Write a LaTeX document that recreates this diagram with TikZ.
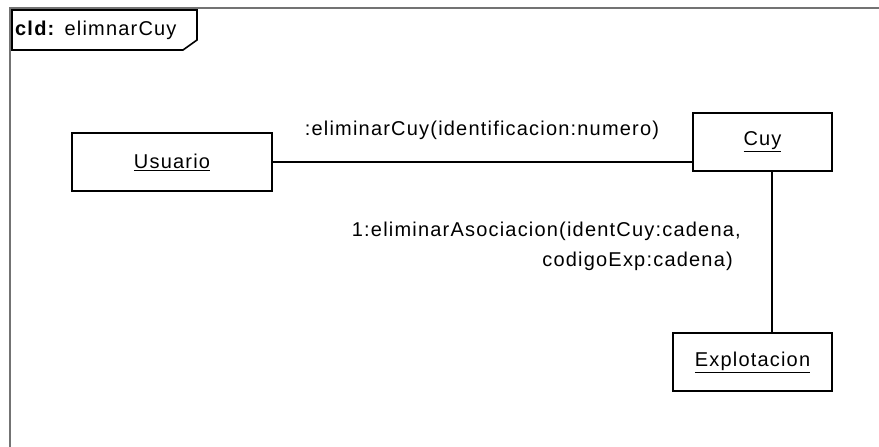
\documentclass[tikz,border=0pt]{standalone}
\usepackage{fontspec}
\setmainfont{Liberation Sans}[LetterSpace=6]
\begin{document}
\begin{tikzpicture}[x=1pt,y=-1pt,
  obj/.style={draw=black,line width=2pt,fill=white,inner sep=0pt,font=\fontsize{20}{23}\selectfont},
  conn/.style={draw=black,line width=2pt},
  msg/.style={inner sep=0pt,font=\fontsize{20}{23}\selectfont},
  framel/.style={draw=black!55,line width=2pt}]
\useasboundingbox (0,0) rectangle (879,447);
\fill[white] (0,0) rectangle (879,447);
% frame
\draw[framel] (10,447) -- (10,8) -- (879,8);
% tab
\draw[line width=1.6pt,fill=white] (12,10) -- (197,10) -- (197,40) -- (183,50) -- (12,50) -- cycle;
\node[msg,anchor=west] (title) at (15,30) {\textbf{cld:} elimnarCuy};
% objects
\node[obj,minimum width=200pt,minimum height=58pt] (usuario) at (172,162) {\underline{Usuario}};
\node[obj,minimum width=139pt,minimum height=58pt] (cuy) at (762.5,142) {\underline{Cuy}};
\node[obj,minimum width=159pt,minimum height=58pt] (expl) at (752.5,362) {\underline{Explotacion}};
\coordinate (vx) at (772,250);
% connectors
\draw[conn] (usuario.east) -- (usuario.east -| cuy.west);
\draw[conn] (cuy.south -| vx) -- (expl.north -| vx);
% labels
\node[msg] (m1) at (482,130) {:eliminarCuy(identificacion:numero)};
\node[msg,anchor=east] (m2a) at (741,231) {1:eliminarAsociacion(identCuy:cadena,};
\node[msg,anchor=east] (m2b) at (733,261) {codigoExp:cadena)};
\end{tikzpicture}
\end{document}
